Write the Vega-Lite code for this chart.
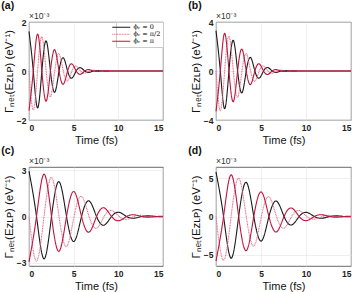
{
"$schema": "https://vega.github.io/schema/vega-lite/v6.json",
"padding": {"left": 0, "top": 0, "right": 0, "bottom": 0},
"datasets": {"curves": [
{"p":"a","s":"k","t":0,"v":1.62},{"p":"a","s":"k","t":0.48,"v":0},{"p":"a","s":"k","t":0.96,"v":-1.51},{"p":"a","s":"k","t":1.44,"v":0},{"p":"a","s":"k","t":1.92,"v":1.23},{"p":"a","s":"k","t":2.4,"v":0},{"p":"a","s":"k","t":2.88,"v":-0.87},{"p":"a","s":"k","t":3.36,"v":0},{"p":"a","s":"k","t":3.84,"v":0.54},{"p":"a","s":"k","t":4.32,"v":0},{"p":"a","s":"k","t":4.8,"v":-0.29},{"p":"a","s":"k","t":5.28,"v":0},{"p":"a","s":"k","t":5.76,"v":0.136},{"p":"a","s":"k","t":6.24,"v":0},{"p":"a","s":"k","t":6.72,"v":-0.056},{"p":"a","s":"k","t":7.2,"v":0},{"p":"a","s":"k","t":7.68,"v":0.02},{"p":"a","s":"k","t":8.16,"v":0},{"p":"a","s":"k","t":8.64,"v":-0.006},{"p":"a","s":"k","t":9.12,"v":0},{"p":"a","s":"k","t":9.6,"v":0},{"p":"a","s":"k","t":15,"v":0},
{"p":"a","s":"h","t":0,"v":0},{"p":"a","s":"h","t":0.48,"v":-1.59},{"p":"a","s":"h","t":0.96,"v":0},{"p":"a","s":"h","t":1.44,"v":1.39},{"p":"a","s":"h","t":1.92,"v":0},{"p":"a","s":"h","t":2.4,"v":-1.05},{"p":"a","s":"h","t":2.88,"v":0},{"p":"a","s":"h","t":3.36,"v":0.7},{"p":"a","s":"h","t":3.84,"v":0},{"p":"a","s":"h","t":4.32,"v":-0.4},{"p":"a","s":"h","t":4.8,"v":0},{"p":"a","s":"h","t":5.28,"v":0.2},{"p":"a","s":"h","t":5.76,"v":0},{"p":"a","s":"h","t":6.24,"v":-0.089},{"p":"a","s":"h","t":6.72,"v":0},{"p":"a","s":"h","t":7.2,"v":0.034},{"p":"a","s":"h","t":7.68,"v":0},{"p":"a","s":"h","t":8.16,"v":-0.011},{"p":"a","s":"h","t":8.64,"v":0},{"p":"a","s":"h","t":9.12,"v":0.003},{"p":"a","s":"h","t":9.6,"v":0},{"p":"a","s":"h","t":15,"v":0},
{"p":"a","s":"r","t":0,"v":-1.62},{"p":"a","s":"r","t":0.48,"v":0},{"p":"a","s":"r","t":0.96,"v":1.51},{"p":"a","s":"r","t":1.44,"v":0},{"p":"a","s":"r","t":1.92,"v":-1.23},{"p":"a","s":"r","t":2.4,"v":0},{"p":"a","s":"r","t":2.88,"v":0.87},{"p":"a","s":"r","t":3.36,"v":0},{"p":"a","s":"r","t":3.84,"v":-0.54},{"p":"a","s":"r","t":4.32,"v":0},{"p":"a","s":"r","t":4.8,"v":0.29},{"p":"a","s":"r","t":5.28,"v":0},{"p":"a","s":"r","t":5.76,"v":-0.136},{"p":"a","s":"r","t":6.24,"v":0},{"p":"a","s":"r","t":6.72,"v":0.056},{"p":"a","s":"r","t":7.2,"v":0},{"p":"a","s":"r","t":7.68,"v":-0.02},{"p":"a","s":"r","t":8.16,"v":0},{"p":"a","s":"r","t":8.64,"v":0.006},{"p":"a","s":"r","t":9.12,"v":0},{"p":"a","s":"r","t":9.6,"v":0},{"p":"a","s":"r","t":15,"v":0},
{"p":"b","s":"k","t":0,"v":3.3},{"p":"b","s":"k","t":0.48,"v":0},{"p":"b","s":"k","t":0.96,"v":-3.08},{"p":"b","s":"k","t":1.44,"v":0},{"p":"b","s":"k","t":1.92,"v":2.51},{"p":"b","s":"k","t":2.4,"v":0},{"p":"b","s":"k","t":2.88,"v":-1.78},{"p":"b","s":"k","t":3.36,"v":0},{"p":"b","s":"k","t":3.84,"v":1.1},{"p":"b","s":"k","t":4.32,"v":0},{"p":"b","s":"k","t":4.8,"v":-0.59},{"p":"b","s":"k","t":5.28,"v":0},{"p":"b","s":"k","t":5.76,"v":0.28},{"p":"b","s":"k","t":6.24,"v":0},{"p":"b","s":"k","t":6.72,"v":-0.114},{"p":"b","s":"k","t":7.2,"v":0},{"p":"b","s":"k","t":7.68,"v":0.041},{"p":"b","s":"k","t":8.16,"v":0},{"p":"b","s":"k","t":8.64,"v":-0.013},{"p":"b","s":"k","t":9.12,"v":0},{"p":"b","s":"k","t":9.6,"v":0.003},{"p":"b","s":"k","t":15,"v":0},
{"p":"b","s":"h","t":0,"v":0},{"p":"b","s":"h","t":0.48,"v":-3.24},{"p":"b","s":"h","t":0.96,"v":0},{"p":"b","s":"h","t":1.44,"v":2.83},{"p":"b","s":"h","t":1.92,"v":0},{"p":"b","s":"h","t":2.4,"v":-2.15},{"p":"b","s":"h","t":2.88,"v":0},{"p":"b","s":"h","t":3.36,"v":1.42},{"p":"b","s":"h","t":3.84,"v":0},{"p":"b","s":"h","t":4.32,"v":-0.82},{"p":"b","s":"h","t":4.8,"v":0},{"p":"b","s":"h","t":5.28,"v":0.41},{"p":"b","s":"h","t":5.76,"v":0},{"p":"b","s":"h","t":6.24,"v":-0.18},{"p":"b","s":"h","t":6.72,"v":0},{"p":"b","s":"h","t":7.2,"v":0.069},{"p":"b","s":"h","t":7.68,"v":0},{"p":"b","s":"h","t":8.16,"v":-0.023},{"p":"b","s":"h","t":8.64,"v":0},{"p":"b","s":"h","t":9.12,"v":0.006},{"p":"b","s":"h","t":9.6,"v":0},{"p":"b","s":"h","t":15,"v":0},
{"p":"b","s":"r","t":0,"v":-3.3},{"p":"b","s":"r","t":0.48,"v":0},{"p":"b","s":"r","t":0.96,"v":3.08},{"p":"b","s":"r","t":1.44,"v":0},{"p":"b","s":"r","t":1.92,"v":-2.51},{"p":"b","s":"r","t":2.4,"v":0},{"p":"b","s":"r","t":2.88,"v":1.78},{"p":"b","s":"r","t":3.36,"v":0},{"p":"b","s":"r","t":3.84,"v":-1.1},{"p":"b","s":"r","t":4.32,"v":0},{"p":"b","s":"r","t":4.8,"v":0.59},{"p":"b","s":"r","t":5.28,"v":0},{"p":"b","s":"r","t":5.76,"v":-0.28},{"p":"b","s":"r","t":6.24,"v":0},{"p":"b","s":"r","t":6.72,"v":0.114},{"p":"b","s":"r","t":7.2,"v":0},{"p":"b","s":"r","t":7.68,"v":-0.041},{"p":"b","s":"r","t":8.16,"v":0},{"p":"b","s":"r","t":8.64,"v":0.013},{"p":"b","s":"r","t":9.12,"v":0},{"p":"b","s":"r","t":9.6,"v":-0.003},{"p":"b","s":"r","t":15,"v":0},
{"p":"c","s":"k","t":0,"v":2.93},{"p":"c","s":"k","t":0.84,"v":0},{"p":"c","s":"k","t":1.68,"v":-2.74},{"p":"c","s":"k","t":2.52,"v":0},{"p":"c","s":"k","t":3.36,"v":2.25},{"p":"c","s":"k","t":4.2,"v":0},{"p":"c","s":"k","t":5.04,"v":-1.61},{"p":"c","s":"k","t":5.88,"v":0},{"p":"c","s":"k","t":6.72,"v":1.01},{"p":"c","s":"k","t":7.56,"v":0},{"p":"c","s":"k","t":8.4,"v":-0.56},{"p":"c","s":"k","t":9.24,"v":0},{"p":"c","s":"k","t":10.08,"v":0.27},{"p":"c","s":"k","t":10.92,"v":0},{"p":"c","s":"k","t":11.76,"v":-0.11},{"p":"c","s":"k","t":12.6,"v":0},{"p":"c","s":"k","t":13.44,"v":0.042},{"p":"c","s":"k","t":14.28,"v":0},{"p":"c","s":"k","t":15,"v":-0.014},
{"p":"c","s":"h","t":0,"v":0},{"p":"c","s":"h","t":0.84,"v":-2.88},{"p":"c","s":"h","t":1.68,"v":0},{"p":"c","s":"h","t":2.52,"v":2.52},{"p":"c","s":"h","t":3.36,"v":0},{"p":"c","s":"h","t":4.2,"v":-1.94},{"p":"c","s":"h","t":5.04,"v":0},{"p":"c","s":"h","t":5.88,"v":1.3},{"p":"c","s":"h","t":6.72,"v":0},{"p":"c","s":"h","t":7.56,"v":-0.76},{"p":"c","s":"h","t":8.4,"v":0},{"p":"c","s":"h","t":9.24,"v":0.39},{"p":"c","s":"h","t":10.08,"v":0},{"p":"c","s":"h","t":10.92,"v":-0.18},{"p":"c","s":"h","t":11.76,"v":0},{"p":"c","s":"h","t":12.6,"v":0.07},{"p":"c","s":"h","t":13.44,"v":0},{"p":"c","s":"h","t":14.28,"v":-0.024},{"p":"c","s":"h","t":15,"v":-0.003},
{"p":"c","s":"r","t":0,"v":-2.93},{"p":"c","s":"r","t":0.84,"v":0},{"p":"c","s":"r","t":1.68,"v":2.74},{"p":"c","s":"r","t":2.52,"v":0},{"p":"c","s":"r","t":3.36,"v":-2.25},{"p":"c","s":"r","t":4.2,"v":0},{"p":"c","s":"r","t":5.04,"v":1.61},{"p":"c","s":"r","t":5.88,"v":0},{"p":"c","s":"r","t":6.72,"v":-1.01},{"p":"c","s":"r","t":7.56,"v":0},{"p":"c","s":"r","t":8.4,"v":0.56},{"p":"c","s":"r","t":9.24,"v":0},{"p":"c","s":"r","t":10.08,"v":-0.27},{"p":"c","s":"r","t":10.92,"v":0},{"p":"c","s":"r","t":11.76,"v":0.11},{"p":"c","s":"r","t":12.6,"v":0},{"p":"c","s":"r","t":13.44,"v":-0.042},{"p":"c","s":"r","t":14.28,"v":0},{"p":"c","s":"r","t":15,"v":0.014},
{"p":"d","s":"k","t":0,"v":5.85},{"p":"d","s":"k","t":0.84,"v":0},{"p":"d","s":"k","t":1.68,"v":-5.47},{"p":"d","s":"k","t":2.52,"v":0},{"p":"d","s":"k","t":3.36,"v":4.49},{"p":"d","s":"k","t":4.2,"v":0},{"p":"d","s":"k","t":5.04,"v":-3.22},{"p":"d","s":"k","t":5.88,"v":0},{"p":"d","s":"k","t":6.72,"v":2.02},{"p":"d","s":"k","t":7.56,"v":0},{"p":"d","s":"k","t":8.4,"v":-1.11},{"p":"d","s":"k","t":9.24,"v":0},{"p":"d","s":"k","t":10.08,"v":0.54},{"p":"d","s":"k","t":10.92,"v":0},{"p":"d","s":"k","t":11.76,"v":-0.23},{"p":"d","s":"k","t":12.6,"v":0},{"p":"d","s":"k","t":13.44,"v":0.084},{"p":"d","s":"k","t":14.28,"v":0},{"p":"d","s":"k","t":15,"v":-0.028},
{"p":"d","s":"h","t":0,"v":0},{"p":"d","s":"h","t":0.84,"v":-5.75},{"p":"d","s":"h","t":1.68,"v":0},{"p":"d","s":"h","t":2.52,"v":5.04},{"p":"d","s":"h","t":3.36,"v":0},{"p":"d","s":"h","t":4.2,"v":-3.86},{"p":"d","s":"h","t":5.04,"v":0},{"p":"d","s":"h","t":5.88,"v":2.59},{"p":"d","s":"h","t":6.72,"v":0},{"p":"d","s":"h","t":7.56,"v":-1.53},{"p":"d","s":"h","t":8.4,"v":0},{"p":"d","s":"h","t":9.24,"v":0.78},{"p":"d","s":"h","t":10.08,"v":0},{"p":"d","s":"h","t":10.92,"v":-0.35},{"p":"d","s":"h","t":11.76,"v":0},{"p":"d","s":"h","t":12.6,"v":0.14},{"p":"d","s":"h","t":13.44,"v":0},{"p":"d","s":"h","t":14.28,"v":-0.048},{"p":"d","s":"h","t":15,"v":-0.006},
{"p":"d","s":"r","t":0,"v":-5.85},{"p":"d","s":"r","t":0.84,"v":0},{"p":"d","s":"r","t":1.68,"v":5.47},{"p":"d","s":"r","t":2.52,"v":0},{"p":"d","s":"r","t":3.36,"v":-4.49},{"p":"d","s":"r","t":4.2,"v":0},{"p":"d","s":"r","t":5.04,"v":3.22},{"p":"d","s":"r","t":5.88,"v":0},{"p":"d","s":"r","t":6.72,"v":-2.02},{"p":"d","s":"r","t":7.56,"v":0},{"p":"d","s":"r","t":8.4,"v":1.11},{"p":"d","s":"r","t":9.24,"v":0},{"p":"d","s":"r","t":10.08,"v":-0.54},{"p":"d","s":"r","t":10.92,"v":0},{"p":"d","s":"r","t":11.76,"v":0.23},{"p":"d","s":"r","t":12.6,"v":0},{"p":"d","s":"r","t":13.44,"v":-0.084},{"p":"d","s":"r","t":14.28,"v":0},{"p":"d","s":"r","t":15,"v":0.028}
]},
"config": {
  "font": "Liberation Sans",
  "view": {"stroke": "#444", "strokeWidth": 0.8},
  "axis": {"labelFont": "Liberation Sans", "labelFontWeight": "bold", "labelFontSize": 8.5, "labelColor": "#222", "titleFont": "Liberation Sans", "titleFontWeight": "normal", "titleFontSize": 11, "titleColor": "#111", "gridColor": "#e4e4e4", "gridWidth": 0.6, "domain": false, "ticks": false, "labelPadding": 3, "titlePadding": 3},
  "axisY": {"titleFontSize": 11.5, "titlePadding": 2},
  "title": {"fontSize": 10.5, "fontWeight": "bold", "anchor": "start", "frame": "bounds", "font": "Liberation Sans", "offset": 1, "dx": -2, "color": "#111"},
  "line": {"strokeWidth": 1.1, "interpolate": "natural", "clip": true},
  "text": {"fontSize": 8.5, "color": "#333", "align": "left", "baseline": "bottom", "dy": -1}
},
"columns": 2,
"bounds": "flush",
"spacing": {"row": 47, "column": 53},
"resolve": {"scale": {"y": "independent", "color": "independent", "strokeDash": "independent"}, "legend": {"color": "independent", "strokeDash": "independent"}},
"concat": [
 {"width": 134, "height": 98, "title": "(a)",
  "layer": [
   {"data": {"name": "curves"}, "transform": [{"filter": "datum.p == 'a'"}],
    "mark": {"type": "line"},
    "encoding": {
     "x": {"field": "t", "type": "quantitative", "scale": {"domain": [0, 15], "nice": false}, "axis": {"values": [0, 5, 10, 15], "title": "Time (fs)"}},
     "y": {"field": "v", "type": "quantitative", "scale": {"domain": [-2, 2], "nice": false}, "axis": {"values": [-2, -1, 0, 1, 2], "title": "Γₙₑₜ(Eᴢʟᴘ) (eV⁻¹)"}},
     "color": {"field": "s", "type": "nominal", "scale": {"domain": ["k", "h", "r"], "range": ["#1a1a1a", "#e0708c", "#c0143c"]},
       "legend": {"orient": "top-right", "title": null, "offset": 0, "padding": 2, "fillColor": "white", "strokeColor": "#cccccc", "symbolType": "M-4.5,0H4.5", "symbolSize": 16, "symbolStrokeWidth": 1.6, "labelFontSize": 6.5, "labelFont": "DejaVu Serif", "rowPadding": 0, "labelOffset": 9, "labelExpr": "datum.label == 'k' ? 'ϕᵣ = 0' : datum.label == 'h' ? 'ϕᵣ = π/2' : 'ϕᵣ = π'"}},
     "strokeDash": {"field": "s", "type": "nominal", "scale": {"domain": ["k", "h", "r"], "range": [[1, 0], [1, 0.6], [1, 0]]}}
    }},
   {"data": {"values": [{"label": "×10⁻³"}]}, "mark": {"type": "text"},
    "encoding": {"x": {"datum": 0}, "y": {"datum": 2}, "text": {"field": "label"}}}
  ]},
 {"width": 135, "height": 98, "title": "(b)",
  "layer": [
   {"data": {"name": "curves"}, "transform": [{"filter": "datum.p == 'b'"}],
    "mark": {"type": "line"},
    "encoding": {
     "x": {"field": "t", "type": "quantitative", "scale": {"domain": [0, 15], "nice": false}, "axis": {"values": [0, 5, 10, 15], "title": "Time (fs)"}},
     "y": {"field": "v", "type": "quantitative", "scale": {"domain": [-4, 4], "nice": false}, "axis": {"values": [-4, -2, 0, 2, 4], "title": "Γₙₑₜ(Eᴢʟᴘ) (eV⁻¹)"}},
     "color": {"field": "s", "type": "nominal", "scale": {"domain": ["k", "h", "r"], "range": ["#1a1a1a", "#e0708c", "#c0143c"]}, "legend": null},
     "strokeDash": {"field": "s", "type": "nominal", "scale": {"domain": ["k", "h", "r"], "range": [[1, 0], [1, 0.6], [1, 0]]}, "legend": null}
    }},
   {"data": {"values": [{"label": "×10⁻³"}]}, "mark": {"type": "text"},
    "encoding": {"x": {"datum": 0}, "y": {"datum": 4}, "text": {"field": "label"}}}
  ]},
 {"width": 134, "height": 99, "title": "(c)",
  "layer": [
   {"data": {"name": "curves"}, "transform": [{"filter": "datum.p == 'c'"}],
    "mark": {"type": "line"},
    "encoding": {
     "x": {"field": "t", "type": "quantitative", "scale": {"domain": [0, 15], "nice": false}, "axis": {"values": [0, 5, 10, 15], "title": "Time (fs)"}},
     "y": {"field": "v", "type": "quantitative", "scale": {"domain": [-3.2, 3.2], "nice": false}, "axis": {"values": [-3, 0, 3], "title": "Γₙₑₜ(Eᴢʟᴘ) (eV⁻¹)"}},
     "color": {"field": "s", "type": "nominal", "scale": {"domain": ["k", "h", "r"], "range": ["#1a1a1a", "#e0708c", "#c0143c"]}, "legend": null},
     "strokeDash": {"field": "s", "type": "nominal", "scale": {"domain": ["k", "h", "r"], "range": [[1, 0], [1, 0.6], [1, 0]]}, "legend": null}
    }},
   {"data": {"values": [{"label": "×10⁻³"}]}, "mark": {"type": "text"},
    "encoding": {"x": {"datum": 0}, "y": {"datum": 3.2}, "text": {"field": "label"}}}
  ]},
 {"width": 135, "height": 99, "title": "(d)",
  "layer": [
   {"data": {"name": "curves"}, "transform": [{"filter": "datum.p == 'd'"}],
    "mark": {"type": "line"},
    "encoding": {
     "x": {"field": "t", "type": "quantitative", "scale": {"domain": [0, 15], "nice": false}, "axis": {"values": [0, 5, 10, 15], "title": "Time (fs)"}},
     "y": {"field": "v", "type": "quantitative", "scale": {"domain": [-6.5, 6.5], "nice": false}, "axis": {"values": [-5, 0, 5], "title": "Γₙₑₜ(Eᴢʟᴘ) (eV⁻¹)"}},
     "color": {"field": "s", "type": "nominal", "scale": {"domain": ["k", "h", "r"], "range": ["#1a1a1a", "#e0708c", "#c0143c"]}, "legend": null},
     "strokeDash": {"field": "s", "type": "nominal", "scale": {"domain": ["k", "h", "r"], "range": [[1, 0], [1, 0.6], [1, 0]]}, "legend": null}
    }},
   {"data": {"values": [{"label": "×10⁻³"}]}, "mark": {"type": "text"},
    "encoding": {"x": {"datum": 0}, "y": {"datum": 6.5}, "text": {"field": "label"}}}
  ]}
]
}
